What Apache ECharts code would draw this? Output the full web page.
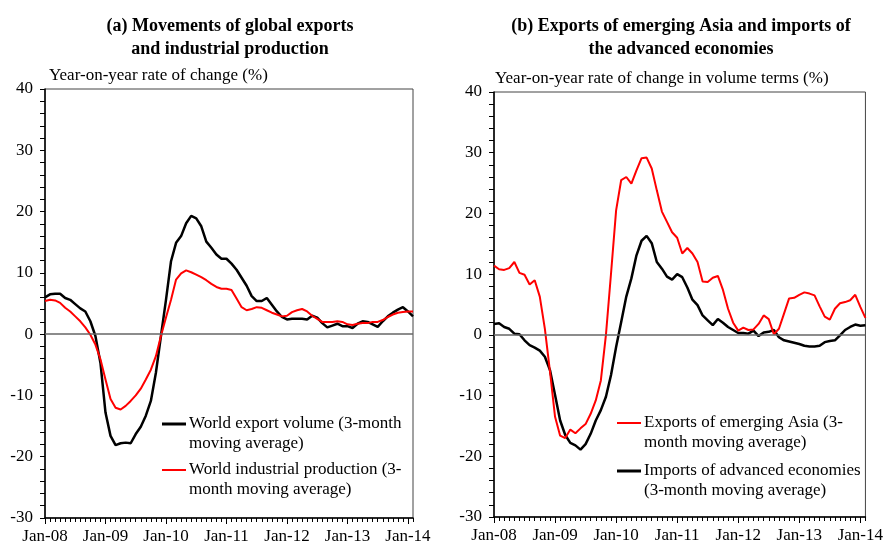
<!DOCTYPE html>
<html>
<head>
<meta charset="utf-8">
<script src="https://cdn.jsdelivr.net/npm/echarts@6/dist/echarts.min.js"></script>
<style>
  html, body { margin: 0; padding: 0; background: #fff; }
  #chart { width: 886px; height: 545px; }
</style>
</head>
<body>
<div id="chart"></div>
<script>
// months Jan-08 .. Feb-14
const monthNames = ['Jan','Feb','Mar','Apr','May','Jun','Jul','Aug','Sep','Oct','Nov','Dec']
const months = []
for (let y = 8; y <= 14; y++) {
  for (let m = 0; m < 12; m++) {
    if (y === 14 && m > 1) break
    months.push(monthNames[m] + '-' + String(y).padStart(2, '0'))
  }
}

const yTicks = [-30, -20, -10, 0, 10, 20, 30, 40]

// (a) world export volume, 3-month moving average (%)
const exportVolume = [
  6.0, 6.5, 6.6, 6.6, 5.9, 5.6, 4.9, 4.2, 3.7, 2.1,
  -0.3, -4.7, -12.8, -16.6, -18.1, -17.8, -17.7, -17.8, -16.3, -15.1,
  -13.3, -10.9, -6.3, -0.3, 5.6, 11.9, 14.9, 16.0, 18.1, 19.3,
  18.9, 17.6, 15.1, 14.1, 13.0, 12.3, 12.3, 11.5, 10.5, 9.2,
  7.9, 6.2, 5.4, 5.4, 5.9, 4.8, 3.7, 2.8, 2.4, 2.5,
  2.5, 2.5, 2.4, 3.0, 2.7, 1.8, 1.1, 1.4, 1.7, 1.3,
  1.3, 1.0, 1.7, 2.1, 2.0, 1.6, 1.2, 2.1, 2.9, 3.5,
  4.0, 4.4, 3.7, 2.9
]

// (a) world industrial production, 3-month moving average (%)
const industrialProd = [
  5.4, 5.6, 5.5, 5.1, 4.3, 3.7, 2.9, 2.1, 1.1, -0.1,
  -1.7, -4.1, -7.4, -10.6, -12.0, -12.3, -11.7, -10.9, -10.0, -8.9,
  -7.4, -5.8, -3.6, -0.3, 2.7, 5.6, 8.9, 9.9, 10.4, 10.1,
  9.7, 9.3, 8.8, 8.2, 7.7, 7.4, 7.4, 7.2, 5.8, 4.4,
  3.9, 4.1, 4.4, 4.3, 3.9, 3.5, 3.2, 2.9, 3.0, 3.6,
  3.9, 4.1, 3.7, 3.0, 2.5, 2.0, 2.0, 2.0, 2.1, 2.0,
  1.6, 1.5, 1.7, 1.8, 1.8, 2.0, 2.0, 2.3, 2.8, 3.2,
  3.5, 3.6, 3.7, 3.7
]

// (b) exports of emerging Asia (%)
const asiaExports = [
  11.4, 10.8, 10.7, 11.0, 12.0, 10.2, 9.9, 8.3, 9.0, 6.3,
  1.0, -6.0, -13.5, -16.6, -17.0, -15.6, -16.2, -15.4, -14.7, -13.0,
  -10.8, -7.5, 0.0, 10.1, 20.5, 25.5, 26.0, 24.9, 27.1, 29.1,
  29.2, 27.4, 23.8, 20.3, 18.6, 16.9, 16.0, 13.4, 14.3, 13.4,
  12.0, 8.8, 8.7, 9.4, 9.7, 7.4, 4.3, 2.0, 0.7, 1.2,
  0.8, 0.9, 1.8, 3.2, 2.6, 0.1, 1.0, 3.5, 6.0, 6.1,
  6.6, 7.0, 6.8, 6.5, 4.7, 3.0, 2.5, 4.3, 5.2, 5.4,
  5.7, 6.6, 4.6, 2.8
]

// (b) imports of advanced economies (%)
const advImports = [
  1.8, 1.9, 1.3, 1.0, 0.2, 0.1, -0.9, -1.7, -2.1, -2.6,
  -3.6, -5.8, -9.9, -14.1, -16.5, -17.8, -18.2, -18.9, -18.0, -16.3,
  -14.1, -12.4, -10.2, -6.6, -2.0, 2.1, 6.3, 9.3, 13.1, 15.5,
  16.3, 15.1, 12.0, 10.9, 9.6, 9.1, 10.0, 9.5, 7.8, 5.8,
  4.9, 3.2, 2.4, 1.6, 2.6, 2.0, 1.3, 0.8, 0.3, 0.3,
  0.2, 0.7, -0.2, 0.4, 0.5, 0.8, -0.4, -0.9, -1.1, -1.3,
  -1.5, -1.8, -1.9, -1.9, -1.8, -1.2, -1.0, -0.9, -0.1, 0.8,
  1.3, 1.7, 1.5, 1.6
]

const FONT = '"Liberation Serif", "Times New Roman", serif'
const txt = { fontFamily: FONT, fontSize: 17, color: '#000' }

function xAxisFor(grid) {
  return [
    {
      type: 'category', gridIndex: grid, data: months, boundaryGap: false,
      axisLine: { onZero: false, lineStyle: { color: '#000', width: 1.5 } },
      axisTick: { interval: 0, length: 4, lineStyle: { color: '#000' } },
      axisLabel: {
        ...txt, margin: 10,
        interval: (i) => i % 12 === 0
      }
    },
    {
      // longer ticks on January
      type: 'category', gridIndex: grid, data: months, boundaryGap: false, position: 'bottom',
      axisLine: { show: false, onZero: false },
      axisTick: { interval: (i) => i % 12 === 0, length: 6, lineStyle: { color: '#000' } },
      axisLabel: { show: false }
    }
  ]
}

function yAxisFor(grid) {
  return {
    type: 'value', gridIndex: grid,
    min: yTicks[0], max: yTicks[yTicks.length - 1], interval: 10,
    axisLine: { show: true, lineStyle: { color: '#000', width: 1.5 } },
    axisTick: { show: true, length: 5, lineStyle: { color: '#000' } },
    minorTick: { show: true, splitNumber: 5, length: 5, lineStyle: { color: '#000' } },
    splitLine: { show: false },
    axisLabel: { ...txt, margin: 12 }
  }
}

const zeroLine = {
  silent: true, symbol: 'none',
  label: { show: false },
  lineStyle: { color: '#666', width: 1.5, type: 'solid' },
  data: [{ yAxis: 0 }]
}

function lineSeries(name, data, color, width, xi, yi, withZero) {
  const s = {
    name, type: 'line', data, xAxisIndex: xi, yAxisIndex: yi,
    symbol: 'none', smooth: false,
    lineStyle: { color, width },
    itemStyle: { color },
    z: color === '#000' ? 3 : 4
  }
  if (withZero) s.markLine = zeroLine
  return s
}

function legendEntry(x, y, color, width, lines) {
  return [
    { type: 'line', shape: { x1: x, y1: y, x2: x + 24, y2: y }, style: { stroke: color, lineWidth: width } },
    {
      type: 'text', left: x + 27, top: y - 10,
      style: { text: lines.join('\n'), font: '17px ' + FONT, fill: '#000', lineHeight: 20 }
    }
  ]
}

const chart = echarts.init(document.getElementById('chart'))

const option = {
  animation: false,
  backgroundColor: '#fff',
  title: [
    {
      text: '(a) Movements of global exports\nand industrial production',
      left: 225, top: 10, textAlign: 'center',
      textStyle: { fontFamily: FONT, fontWeight: 'bold', fontSize: 18, lineHeight: 23, color: '#000' }
    },
    {
      text: '(b) Exports of emerging Asia and imports of\nthe advanced economies',
      left: 676, top: 10, textAlign: 'center',
      textStyle: { fontFamily: FONT, fontWeight: 'bold', fontSize: 18, lineHeight: 23, color: '#000' }
    }
  ],
  grid: [
    { left: 45, top: 89, width: 368, height: 430, show: true, borderColor: '#444', borderWidth: 1, backgroundColor: '#fff' },
    { left: 494, top: 92, width: 375, height: 425, show: true, borderColor: '#444', borderWidth: 1, backgroundColor: '#fff' }
  ],
  xAxis: [...xAxisFor(0), ...xAxisFor(1)],
  yAxis: [yAxisFor(0), yAxisFor(1)],
  series: [
    lineSeries('World export volume', exportVolume, '#000', 2.5, 0, 0, true),
    lineSeries('World industrial production', industrialProd, '#ff0000', 2, 0, 0, false),
    lineSeries('Imports of advanced economies', advImports, '#000', 2.5, 2, 1, true),
    lineSeries('Exports of emerging Asia', asiaExports, '#ff0000', 2, 2, 1, false)
  ],
  graphic: [
    { type: 'text', left: 49, top: 67, style: { text: 'Year-on-year rate of change (%)', font: '17px ' + FONT, fill: '#000' } },
    { type: 'text', left: 495, top: 70, style: { text: 'Year-on-year rate of change in volume terms (%)', font: '17px ' + FONT, fill: '#000' } },
    ...legendEntry(162, 424, '#000', 3, ['World export volume (3-month', 'moving average)']),
    ...legendEntry(162, 470, '#ff0000', 2, ['World industrial production (3-', 'month moving average)']),
    ...legendEntry(617, 423, '#ff0000', 2, ['Exports of emerging Asia (3-', 'month moving average)']),
    ...legendEntry(617, 471, '#000', 3, ['Imports of advanced economies', '(3-month moving average)'])
  ]
}

chart.setOption(option)
</script>
</body>
</html>
